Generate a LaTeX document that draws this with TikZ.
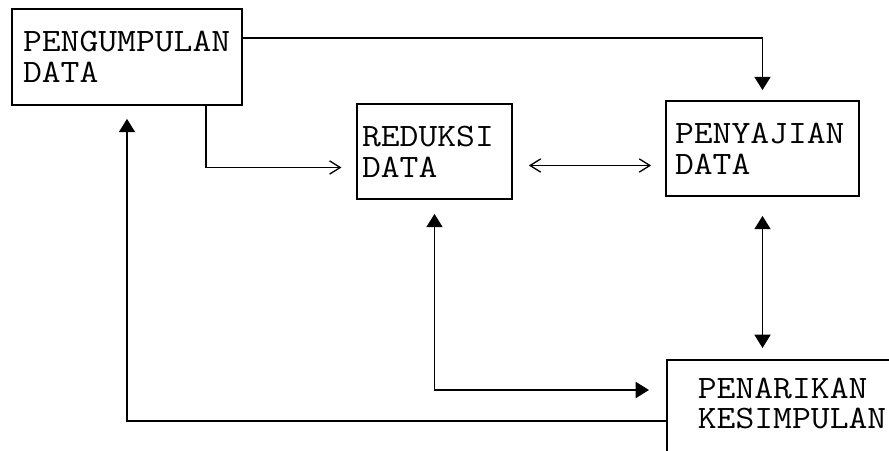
\documentclass[tikz,border=0pt]{standalone}
\usepackage{fontspec}
\newfontfamily\dotfont[FakeStretch=1.12]{Latin Modern Mono}
\usetikzlibrary{arrows.meta,calc}
\begin{document}
\begin{tikzpicture}[x=0.75pt,y=-0.75pt,
  line width=1.4pt,
  box/.style={draw, rectangle, line width=1.3pt, align=left,
    font=\dotfont\fontsize{24.5pt}{23pt}\selectfont, inner ysep=0pt},
  tri/.style={-{Triangle[length=10pt,width=12pt]}},
  tritri/.style={{Triangle[length=10pt,width=12pt]}-{Triangle[length=10pt,width=12pt]}},
  barb/.style={-{Straight Barb[length=8pt,width=10pt,line width=1pt]}},
  barbbarb/.style={{Straight Barb[length=8pt,width=10pt,line width=1pt]}-{Straight Barb[length=8pt,width=10pt,line width=1pt]}}
]
\useasboundingbox (0,0) rectangle (889,450);
\clip (0,0) rectangle (889,450);

\node[box, minimum width=172.5pt, minimum height=72pt, inner xsep=8.25pt, text width=156pt]
  (kumpul) at (127,57) {PENGUMPULAN\\DATA};
\node[box, minimum width=116.25pt, minimum height=71.25pt, inner xsep=3.75pt, text width=108.75pt]
  (reduksi) at (434.5,151.5) {REDUKSI\\DATA};
\node[box, minimum width=144.75pt, minimum height=71.25pt, inner xsep=6.75pt, text width=131.25pt]
  (sajian) at (762.5,148.5) {PENYAJIAN\\DATA};
\node[box, anchor=north west, inner xsep=23.25pt, inner ysep=13.5pt, text width=178.5pt, text depth=80pt]
  (tarik) at (666,359) {PENARIKAN\\KESIMPULAN};

% Pengumpulan -> Penyajian
\coordinate (a1) at ($(kumpul.north east)+(0,30)$);
\draw[tri, shorten >=7.5pt] (a1) -| (sajian.north);

% Pengumpulan -> Reduksi
\coordinate (b1) at ($(kumpul.south east)+(-37,0)$);
\coordinate (b2) at ($(reduksi.west)+(0,16)$);
\draw[barb, shorten >=11pt] (b1) |- (b2);

% Reduksi <-> Penyajian
\coordinate (c1) at ($(reduksi.east)+(0,14)$);
\draw[barbbarb, shorten <=12pt, shorten >=10.5pt] (c1) -- (c1 -| sajian.west);

% Penarikan -> Pengumpulan
\coordinate (d1) at ($(tarik.north west)+(0,62)$);
\draw[tri, shorten >=9.75pt] (d1) -| (kumpul.south);

% Reduksi <-> Penarikan
\coordinate (e1) at ($(tarik.north west)+(0,31)$);
\draw[tritri, shorten <=10.5pt, shorten >=12.75pt] (reduksi.south) |- (e1);

% Penyajian <-> Penarikan
\draw[tritri, shorten <=14.25pt, shorten >=8.25pt] (sajian.south) -- (sajian.south |- tarik.north);
\end{tikzpicture}
\end{document}
